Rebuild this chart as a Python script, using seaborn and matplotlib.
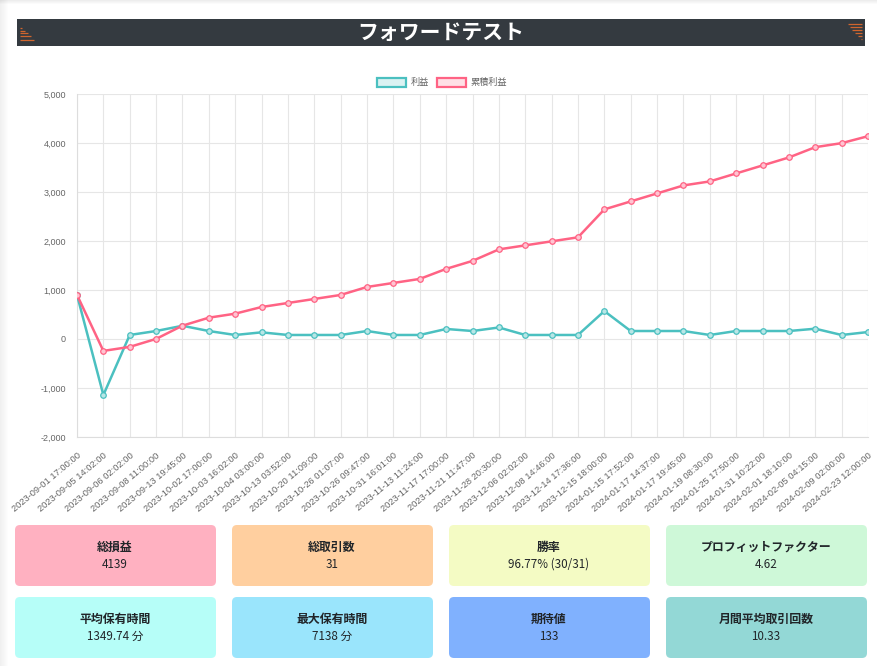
import numpy as np
import pandas as pd
import matplotlib
matplotlib.use("Agg")
import matplotlib.pyplot as plt
import seaborn as sns
from matplotlib.patches import FancyBboxPatch, Rectangle

# data
dates = [
    "2023-09-01 17:00:00", "2023-09-05 14:02:00", "2023-09-06 02:02:00",
    "2023-09-08 11:00:00", "2023-09-13 19:45:00", "2023-10-02 17:00:00",
    "2023-10-03 16:02:00", "2023-10-04 03:00:00", "2023-10-13 03:52:00",
    "2023-10-20 11:09:00", "2023-10-26 01:07:00", "2023-10-26 09:47:00",
    "2023-10-31 16:01:00", "2023-11-13 11:24:00", "2023-11-17 17:00:00",
    "2023-11-21 11:47:00", "2023-11-28 20:30:00", "2023-12-06 02:02:00",
    "2023-12-08 14:46:00", "2023-12-14 17:36:00", "2023-12-15 18:00:00",
    "2024-01-15 17:52:00", "2024-01-17 14:37:00", "2024-01-17 19:45:00",
    "2024-01-19 08:30:00", "2024-01-25 17:50:00", "2024-01-31 10:22:00",
    "2024-02-01 18:10:00", "2024-02-05 04:15:00", "2024-02-09 02:00:00",
    "2024-02-23 12:00:00",
]
profit = [900, -1143, 82, 163, 270, 163, 82, 136, 82, 82, 82, 163, 82, 82,
          205, 163, 235, 82, 82, 82, 570, 163, 163, 163, 82, 163, 163, 163,
          210, 82, 142]
cum_profit = [900, -243, -161, 2, 272, 435, 517, 653, 735, 817, 899, 1062,
              1144, 1226, 1431, 1594, 1829, 1911, 1993, 2075, 2645, 2808,
              2971, 3134, 3216, 3379, 3542, 3705, 3915, 3997, 4139]

card_titles = ["総損益", "総取引数", "勝率", "プロフィットファクター",
               "平均保有時間", "最大保有時間", "期待値", "月間平均取引回数"]
card_values = ["4139", "31", "96.77% (30/31)", "4.62",
               "1349.74 分", "7138 分", "133", "10.33"]
card_colors = ["#FFB1C1", "#FFCF9F", "#F4FBC4", "#CEF8D8",
               "#B6FEF8", "#9AE5FC", "#80B1FE", "#93D8D6"]

teal = "#4BC0C0"
pink = "#FF6384"
jp = ["Noto Sans CJK JP", "DejaVu Sans"]

sns.set_style("white")
plt.rcParams["font.family"] = ["Liberation Sans", "Noto Sans CJK JP"]

W, H = 877, 666
fig = plt.figure(figsize=(W / 100, H / 100), dpi=100)

# background layer in pixel coords
bg = fig.add_axes([0, 0, 1, 1])
bg.set_xlim(0, W)
bg.set_ylim(H, 0)
bg.axis("off")

# soft page shadows
for i in range(8):
    bg.add_patch(Rectangle((i, 0), 1, H, color="#000000", alpha=0.06 * (8 - i) / 8, lw=0))
for i in range(4):
    bg.add_patch(Rectangle((0, i), W, 1, color="#000000", alpha=0.07 * (4 - i) / 4, lw=0))

# header bar
bg.add_patch(Rectangle((17, 19), 848, 27, color="#343A40", lw=0))
bg.text(441, 32.5, "フォワードテスト", color="white", fontsize=15, fontweight="bold",
        ha="center", va="center", family=jp)
for y, ln in zip([28, 30.7, 33.3, 36, 40], [2, 5, 8, 11, 14]):
    bg.plot([20, 20 + ln], [y, y], color="#D0652E", lw=0.9, solid_capstyle="butt")
for y, ln in zip([24, 27, 30, 33, 36, 39], [14, 12, 10, 7, 4, 1.5]):
    bg.plot([862 - ln, 862], [y, y], color="#D0652E", lw=0.9, solid_capstyle="butt")

# legend
for x0, lab, col, fc in [(376, "利益", teal, "#DBF2F2"), (436, "累積利益", pink, "#FFE0E6")]:
    bg.add_patch(Rectangle((x0 + 1, 77.5), 29, 9.5, facecolor=fc, edgecolor=col, lw=1.6))
    bg.text(x0 + 35, 82, lab, color="#666666", fontsize=6.6, ha="left", va="center", family=jp)

# stat cards
col_x = [15, 232, 449, 666]
row_y = [525, 597]
for i, (t, v, c) in enumerate(zip(card_titles, card_values, card_colors)):
    x0 = col_x[i % 4]
    y0 = row_y[i // 4]
    bg.add_patch(FancyBboxPatch((x0 + 4, y0 + 4), 193, 53,
                                boxstyle="round,pad=4,rounding_size=5",
                                facecolor=c, edgecolor="none"))
    bg.text(x0 + 100, y0 + 22, t, fontsize=8.6, fontweight="bold", color="#212529",
            ha="center", va="center", family=jp)
    bg.text(x0 + 100, y0 + 39.5, v, fontsize=8.4, color="#212529",
            ha="center", va="center", family=jp)

# main chart
ax = fig.add_axes([77 / W, 1 - 437 / H, 791 / W, 343 / H])
df = pd.DataFrame({"idx": np.arange(len(dates)), "profit": profit, "cum": cum_profit})
sns.lineplot(data=df, x="idx", y="profit", ax=ax, color=teal, lw=1.8,
             marker="o", markersize=4, markerfacecolor="#B8E6E6",
             markeredgecolor=teal, markeredgewidth=0.9, zorder=3)
sns.lineplot(data=df, x="idx", y="cum", ax=ax, color=pink, lw=1.8,
             marker="o", markersize=4, markerfacecolor="#FFC4D1",
             markeredgecolor=pink, markeredgewidth=0.9, zorder=4)

ax.set_xlim(0, len(dates) - 1)
ax.set_ylim(-2000, 5000)
ax.set_xticks(np.arange(len(dates)))
ax.set_xticklabels(dates, rotation=40, ha="right", rotation_mode="anchor",
                   fontsize=6.7, color="#666666")
yt = np.arange(-2000, 5001, 1000)
ax.set_yticks(yt)
ax.set_yticklabels([f"{v:,}" for v in yt], fontsize=6.5, color="#666666")
ax.set_xlabel("")
ax.set_ylabel("")
ax.grid(True, color="#E6E6E6", lw=0.8)
ax.tick_params(axis="both", length=6, width=0.8, color="#E6E6E6", pad=2)
ax.tick_params(axis="x", pad=4)
for s in ["top", "right"]:
    ax.spines[s].set_visible(False)
for s in ["left", "bottom"]:
    ax.spines[s].set_color("#DDDDDD")
    ax.spines[s].set_linewidth(0.8)
ax.patch.set_alpha(0)

fig.savefig("out.png", dpi=100)
